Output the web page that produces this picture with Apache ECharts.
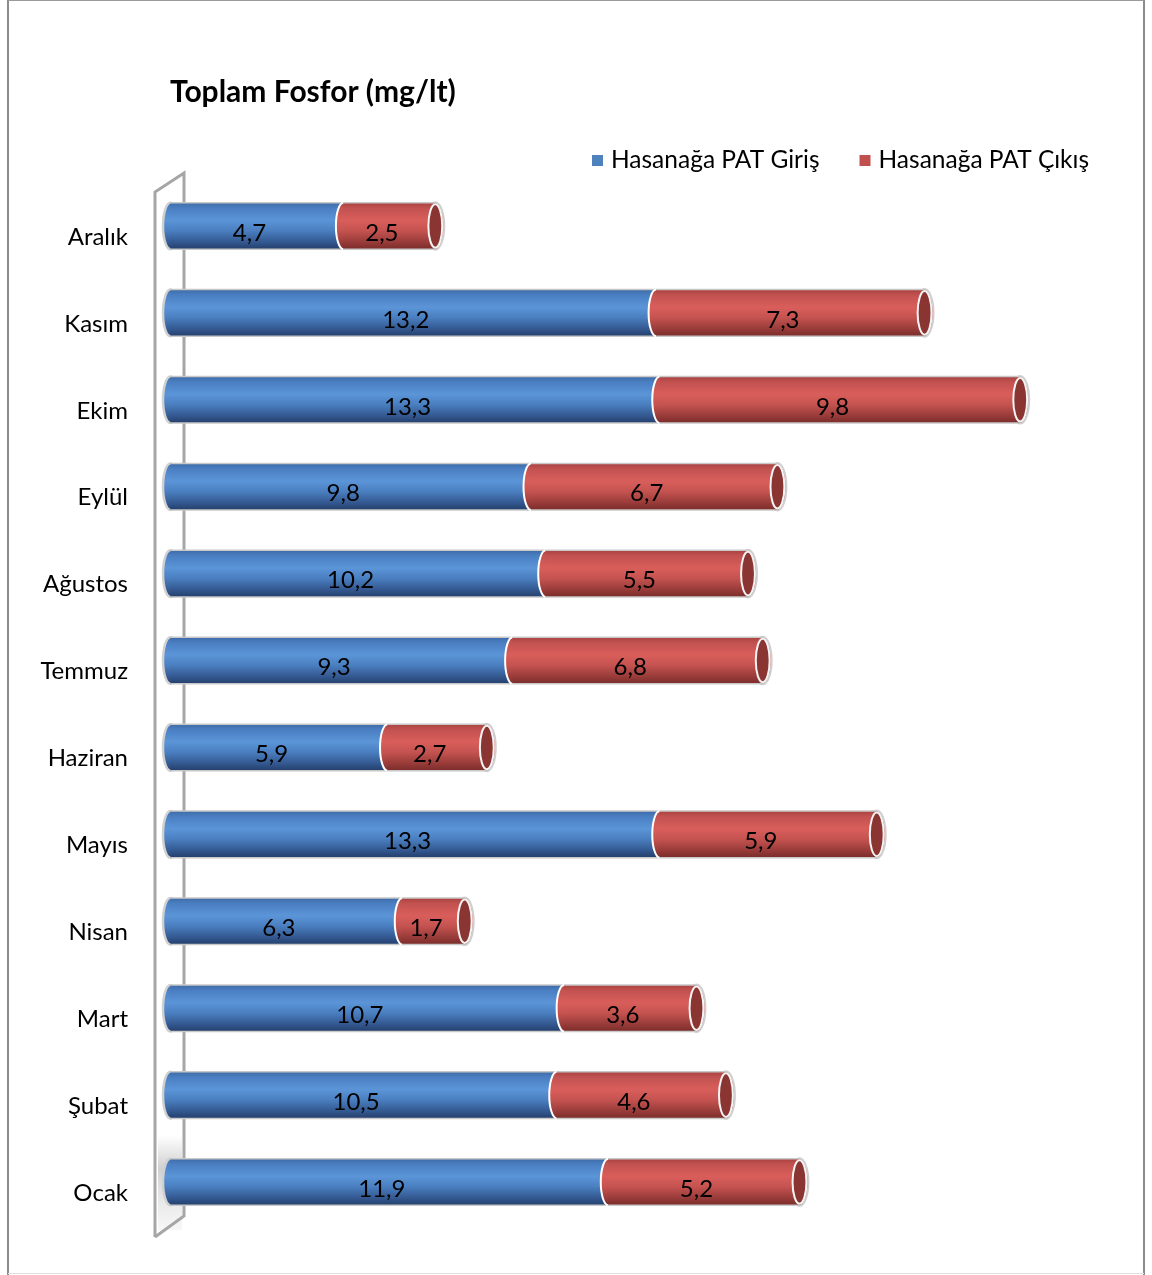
<!DOCTYPE html>
<html>
<head>
<meta charset="utf-8">
<script src="https://cdn.jsdelivr.net/npm/echarts@6/dist/echarts.min.js"></script>
<style>
  html, body { margin: 0; padding: 0; background: #ffffff; }
  #chart { width: 1152px; height: 1275px; }
</style>
</head>
<body>
<div id="chart"></div>
<script>
// Months, top to bottom
const months = ['Aralık', 'Kasım', 'Ekim', 'Eylül', 'Ağustos', 'Temmuz', 'Haziran', 'Mayıs', 'Nisan', 'Mart', 'Şubat', 'Ocak'];
// Total phosphorus (mg/lt) at plant inlet and outlet
const giris = [4.7, 13.2, 13.3, 9.8, 10.2, 9.3, 5.9, 13.3, 6.3, 10.7, 10.5, 11.9];
const cikis = [2.5, 7.3, 9.8, 6.7, 5.5, 6.8, 2.7, 5.9, 1.7, 3.6, 4.6, 5.2];
const seriesNames = ['Hasanağa PAT Giriş', 'Hasanağa PAT Çıkış'];

const FONT = 'Lato, "Noto Sans", sans-serif';
const BAR_RATIO = 0.535;

function fmt(v) { return String(v).replace('.', ','); }

function grad(stops) {
  return new echarts.graphic.LinearGradient(0, 0, 0, 1, stops.map(function (s) { return { offset: s[0], color: s[1] }; }));
}
const blueGrad = function () {
  return grad([[0, '#3f6ba8'], [0.12, '#4a7fc2'], [0.38, '#5b95d8'], [0.6, '#4a7fc0'], [0.85, '#33578f'], [1, '#243f6b']]);
};
const redGrad = function () {
  return grad([[0, '#a94341'], [0.12, '#c25250'], [0.38, '#d95e5b'], [0.6, '#c55350'], [0.85, '#973b39'], [1, '#7a2c2a']]);
};

// One cylinder segment between two values on a category row
function segment(api, cat, from, to, fillFn, isFirst, isLast, text) {
  const a = api.coord([from, cat]);
  const b = api.coord([to, cat]);
  const h = api.size([0, 1])[1] * BAR_RATIO;
  const rx = h * 0.16;
  const cy = a[1];
  const top = cy - h / 2;
  const children = [];
  // rounded start of the segment (left end of the cylinder)
  children.push({
    type: 'ellipse',
    shape: { cx: a[0] + rx, cy: cy, rx: rx, ry: h / 2 },
    style: { fill: fillFn(), stroke: isFirst ? '#d0d0d0' : '#ffffff', lineWidth: isFirst ? 2.5 : 2 }
  });
  if (isLast) {
    // outer shell around the far end
    children.push({
      type: 'ellipse',
      shape: { cx: b[0] + rx, cy: cy, rx: rx + 1.5, ry: h / 2 + 0.5 },
      style: { fill: fillFn(), stroke: '#cfcfcf', lineWidth: 2 }
    });
  }
  // body
  children.push({
    type: 'rect',
    shape: { x: a[0] + rx, y: top, width: b[0] - a[0], height: h },
    style: { fill: fillFn() }
  });
  // light rims along top and bottom
  children.push({
    type: 'line',
    shape: { x1: a[0] + rx, y1: top, x2: b[0] + rx, y2: top },
    style: { stroke: '#c8c8c8', lineWidth: 1.5 }
  });
  children.push({
    type: 'line',
    shape: { x1: a[0] + rx, y1: top + h, x2: b[0] + rx, y2: top + h },
    style: { stroke: '#c8c8c8', lineWidth: 1.5 }
  });
  if (isLast) {
    // open face of the cylinder
    children.push({
      type: 'ellipse',
      shape: { cx: b[0] + rx, cy: cy, rx: rx - 0.5, ry: h / 2 - 1.5 },
      style: { fill: '#8b3533', stroke: '#f4f4f4', lineWidth: 2 }
    });
  }
  children.push({
    type: 'text',
    style: {
      text: text,
      x: (a[0] + b[0]) / 2,
      y: cy + 7,
      align: 'center',
      verticalAlign: 'middle',
      fill: '#000000',
      font: '24px ' + FONT
    }
  });
  return { type: 'group', children: children };
}

const girisData = months.map(function (m, i) { return [i, giris[i]]; });
const cikisData = months.map(function (m, i) { return [i, giris[i], cikis[i]]; });

const chart = echarts.init(document.getElementById('chart'), null, { renderer: 'canvas' });

chart.setOption({
  backgroundColor: '#ffffff',
  animation: false,
  title: {
    text: 'Toplam Fosfor (mg/lt)',
    left: 170,
    top: 77,
    padding: 0,
    textStyle: { fontFamily: FONT, fontSize: 30, fontWeight: 'bold', color: '#000000' }
  },
  legend: {
    data: seriesNames,
    left: 592,
    top: 148,
    padding: 0,
    itemGap: 40,
    itemWidth: 11,
    itemHeight: 11,
    icon: 'rect',
    textStyle: { fontFamily: FONT, fontSize: 24.5, color: '#000000', padding: [0, 0, 0, 3] }
  },
  grid: { left: 163, top: 182.5, width: 916, bottom: 49.5 },
  xAxis: {
    type: 'value',
    min: 0,
    max: 24.9,
    show: false,
    splitLine: { show: false }
  },
  yAxis: {
    type: 'category',
    data: months,
    inverse: true,
    axisLine: { show: false },
    axisTick: { show: false },
    axisLabel: {
      margin: 35,
      verticalAlign: 'top',
      lineHeight: 22,
      fontFamily: FONT,
      fontSize: 24,
      color: '#000000'
    }
  },
  graphic: [
    // chart frame
    { type: 'line', shape: { x1: 8, y1: 0, x2: 8, y2: 1275 }, style: { stroke: '#8c8c8c', lineWidth: 2 } },
    { type: 'line', shape: { x1: 1144, y1: 0, x2: 1144, y2: 1275 }, style: { stroke: '#8c8c8c', lineWidth: 2 } },
    { type: 'line', shape: { x1: 8, y1: 0.5, x2: 1144, y2: 0.5 }, style: { stroke: '#9a9a9a', lineWidth: 1 } },
    { type: 'line', shape: { x1: 8, y1: 1273.5, x2: 1144, y2: 1273.5 }, style: { stroke: '#e0e0e0', lineWidth: 1 } },
    // soft shading at the foot of the side wall
    {
      type: 'rect', z: -1,
      shape: { x: 158, y: 1135, width: 24, height: 95 },
      style: { fill: new echarts.graphic.LinearGradient(0, 0, 0, 1, [
        { offset: 0, color: 'rgba(160,160,160,0)' },
        { offset: 0.35, color: 'rgba(150,150,150,0.45)' },
        { offset: 1, color: 'rgba(200,200,200,0.15)' }
      ]) }
    },
    // side wall of the 3D plot area
    {
      type: 'polyline', z: -1,
      shape: { points: [[155, 1237], [155, 192], [184, 173], [184, 1216], [155, 1237]] },
      style: { stroke: '#a6a6a6', lineWidth: 3, fill: null }
    }
  ],
  series: [
    {
      name: seriesNames[0],
      type: 'custom',
      itemStyle: { color: '#4f81bd' },
      encode: { x: 1, y: 0 },
      data: girisData,
      renderItem: function (params, api) {
        const cat = api.value(0);
        const v = api.value(1);
        return segment(api, cat, 0, v, blueGrad, true, false, fmt(v));
      }
    },
    {
      name: seriesNames[1],
      type: 'custom',
      itemStyle: { color: '#c0504d' },
      encode: { x: [1, 2], y: 0 },
      data: cikisData,
      renderItem: function (params, api) {
        const cat = api.value(0);
        const g = api.value(1);
        const c = api.value(2);
        return segment(api, cat, g, g + c, redGrad, false, true, fmt(c));
      }
    }
  ]
});
</script>
</body>
</html>
